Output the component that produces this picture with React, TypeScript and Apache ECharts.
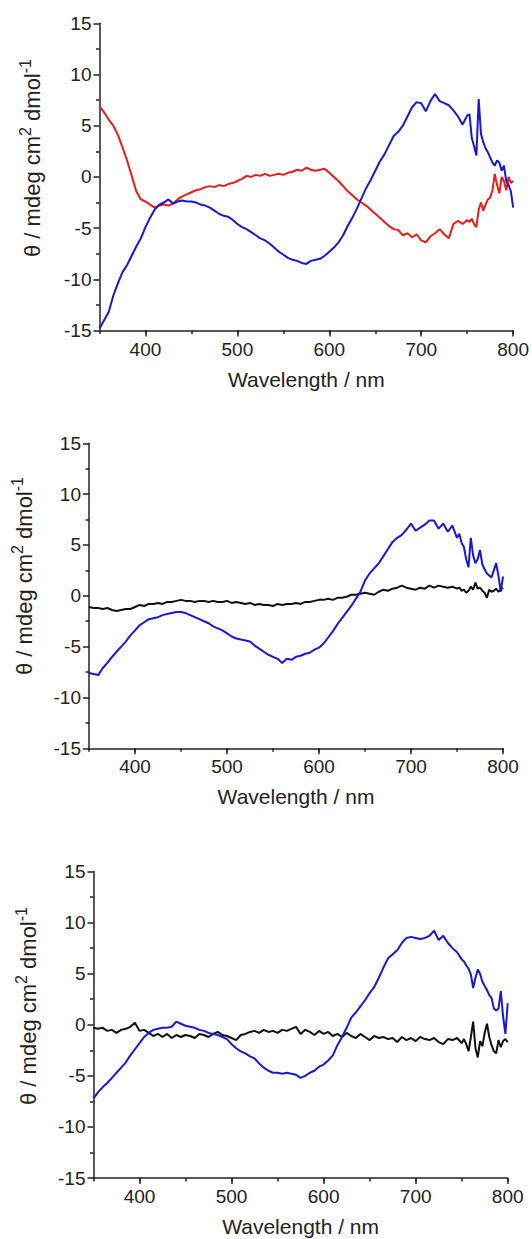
import React, { useEffect, useRef } from "react";
import * as echarts from "echarts";

// Wavelength (nm) sampling points shared by every trace
const WAVELENGTHS = [
  350, 355, 360, 365, 370, 375, 380, 385, 390, 395,
  400, 405, 410, 415, 420, 425, 430, 435, 440, 445,
  450, 455, 460, 465, 470, 475, 480, 485, 490, 495,
  500, 505, 510, 515, 520, 525, 530, 535, 540, 545,
  550, 555, 560, 565, 570, 575, 580, 585, 590, 595,
  600, 605, 610, 615, 620, 625, 630, 635, 640, 645,
  650, 655, 660, 665, 670, 675, 680, 685, 690, 695,
  700, 705, 710, 715, 720, 725, 730, 735, 740, 745,
  750,
  752.5, 755, 757.5, 760, 762.5, 765, 767.5, 770, 772.5, 775,
  777.5, 780, 782.5, 785, 787.5, 790, 792.5, 795, 797.5, 800,
];

// Panel 1
const P1_RED = [
  6.9, 6.3, 5.6, 5.0, 4.1, 2.9, 1.6, 0.1, -1.4, -2.2,
  -2.4, -2.7, -3.0, -2.8, -2.7, -2.8, -2.6, -2.2, -1.9, -1.7,
  -1.5, -1.3, -1.2, -1.0, -0.9, -1.0, -0.8, -0.9, -0.7, -0.6,
  -0.4, -0.2, 0.1, 0.0, 0.2, 0.1, 0.3, 0.1, 0.2, 0.3,
  0.2, 0.4, 0.5, 0.7, 0.6, 0.9, 0.7, 0.6, 0.7, 0.8,
  0.4, 0.0, -0.4, -0.9, -1.4, -1.8, -2.2, -2.5, -2.8, -3.2,
  -3.6, -4.0, -4.4, -4.8, -5.1, -5.2, -5.7, -5.5, -5.9, -5.6,
  -6.2, -6.4, -5.8, -5.5, -5.1, -5.6, -6.0, -4.6, -4.3, -4.6,
  -4.2,
  -4.4, -4.1, -4.6, -4.9, -3.2, -2.5, -3.3, -2.7, -2.2, -2.0,
  -1.3, 0.3, -0.8, -1.6, 0.0, -0.4, -1.3, 0.0, -0.6, -0.4,
];
const P1_BLUE = [
  -14.8, -14.0, -13.2, -11.6, -10.4, -9.3, -8.6, -7.7, -6.8, -6.0,
  -4.9, -4.0, -3.2, -2.7, -2.5, -2.2, -2.6, -2.4, -2.3, -2.4,
  -2.4, -2.5, -2.7, -2.8, -3.0, -3.3, -3.6, -3.8, -3.9, -4.2,
  -4.6, -4.9, -5.1, -5.4, -5.7, -6.0, -6.2, -6.5, -6.9, -7.3,
  -7.6, -7.9, -8.1, -8.2, -8.4, -8.5, -8.2, -8.1, -8.0, -7.7,
  -7.3, -6.9, -6.4, -5.7, -4.8, -4.0, -3.1, -2.1, -1.1, -0.3,
  0.6, 1.5, 2.2, 3.1, 4.0, 4.4, 5.0, 5.9, 6.8, 7.3,
  7.2, 6.4, 7.4, 8.1, 7.4, 7.2, 7.0, 6.5, 5.9, 5.1,
  6.0,
  6.1, 3.8, 3.0, 2.1, 7.6, 4.2, 3.4, 2.8, 2.4, 1.9,
  1.4, 1.1, 1.6, 1.4, 0.6, 1.1, -0.4, -0.8, -1.4, -3.0,
];

// Panel 2
const P2_BLUE = [
  -7.6, -7.7, -7.8, -7.1, -6.6, -6.0, -5.5, -5.0, -4.5, -3.9,
  -3.4, -2.9, -2.6, -2.3, -2.2, -2.1, -1.9, -1.8, -1.7, -1.6,
  -1.6, -1.7, -1.9, -2.1, -2.3, -2.5, -2.7, -3.0, -3.2, -3.4,
  -3.7, -4.0, -4.2, -4.3, -4.4, -4.5, -4.9, -5.2, -5.5, -5.8,
  -6.0, -6.2, -6.6, -6.2, -6.3, -6.0, -5.9, -5.7, -5.6, -5.3,
  -5.1, -4.7, -4.1, -3.5, -2.8, -2.2, -1.6, -1.0, -0.3, 0.4,
  1.5, 2.2, 2.7, 3.2, 3.9, 4.6, 5.3, 5.7, 6.0, 6.5,
  7.1, 6.4, 6.7, 7.0, 7.4, 7.4, 6.6, 7.1, 6.3, 6.9,
  5.7,
  6.1, 5.2, 4.8, 3.6, 2.8, 5.7, 4.0, 3.2, 3.6, 4.5,
  3.1, 2.6, 2.2, 2.0, 1.8, 2.5, 3.2, 2.0, 0.4, 1.9,
];
const P2_BLACK = [
  -1.1, -1.2, -1.2, -1.3, -1.2, -1.4, -1.5, -1.4, -1.3, -1.3,
  -1.1, -0.9, -1.0, -0.8, -0.8, -0.7, -0.8, -0.6, -0.6, -0.5,
  -0.4, -0.5, -0.5, -0.6, -0.5, -0.5, -0.6, -0.5, -0.6, -0.6,
  -0.5, -0.7, -0.6, -0.7, -0.8, -0.7, -0.9, -0.8, -0.9, -0.9,
  -1.0, -0.8, -0.9, -0.8, -0.8, -0.7, -0.8, -0.6, -0.6, -0.5,
  -0.4, -0.4, -0.3, -0.4, -0.2, -0.2, -0.1, 0.1, 0.1, 0.2,
  0.3, 0.2, 0.1, 0.4, 0.6, 0.5, 0.7, 0.8, 1.0, 0.8,
  0.7, 0.6, 0.8, 0.7, 1.0, 0.8, 1.0, 0.9, 0.8, 0.9,
  0.7,
  0.8, 0.5, 0.6, 0.3, 0.5, 0.9, 0.6, 1.3, 0.7, 0.8,
  0.5, 0.3, -0.2, 0.6, 0.4, 0.5, 0.7, 0.4, 0.6, 0.8,
];

// Panel 3
const P3_BLUE = [
  -7.2, -6.6, -6.1, -5.7, -5.2, -4.7, -4.2, -3.7, -3.0, -2.4,
  -1.8, -1.2, -0.8, -0.5, -0.4, -0.3, -0.3, -0.2, 0.3, 0.1,
  -0.1, -0.2, -0.3, -0.5, -0.6, -0.8, -0.9, -1.0, -1.2, -1.4,
  -1.9, -2.3, -2.6, -2.8, -3.1, -3.3, -3.8, -4.2, -4.5, -4.7,
  -4.7, -4.8, -4.7, -4.8, -4.9, -5.2, -5.0, -4.7, -4.5, -4.1,
  -3.9, -3.5, -3.0, -2.0, -1.2, -0.3, 0.7, 1.2, 1.8, 2.4,
  3.1, 3.7, 4.6, 5.6, 6.5, 6.9, 7.3, 8.0, 8.5, 8.6,
  8.5, 8.4, 8.5, 8.7, 9.2, 8.3, 8.7, 8.0, 7.5, 7.1,
  6.4,
  6.2, 5.8, 5.5, 4.9, 3.6, 4.6, 5.4, 5.0, 4.2, 3.8,
  3.4, 2.9, 2.6, 1.6, 1.4, 1.6, 3.3, 0.8, -0.9, 2.1,
];
const P3_BLACK = [
  -0.3, -0.4, -0.3, -0.6, -0.5, -0.8, -0.5, -0.4, -0.2, 0.2,
  -0.6, -0.5, -0.8, -1.1, -0.9, -1.2, -0.9, -1.3, -1.0, -1.2,
  -1.0, -1.1, -1.3, -0.9, -1.0, -1.2, -0.9, -0.7, -1.0, -1.1,
  -1.3, -1.5, -1.0, -0.9, -0.7, -0.6, -0.8, -0.5, -0.7, -0.6,
  -0.8, -0.5, -0.6, -0.4, -0.2, -0.9, -0.5, -0.7, -1.0, -0.6,
  -0.9, -0.7, -1.1, -0.9, -1.2, -0.8, -1.1, -1.3, -0.9, -1.2,
  -1.5, -1.1, -1.3, -1.2, -1.4, -1.3, -1.7, -1.2, -1.5, -1.3,
  -1.6, -1.2, -1.4, -1.5, -1.3, -1.7, -1.9, -1.4, -1.5, -1.3,
  -1.8,
  -1.4, -1.9, -2.6, -1.2, 0.3, -2.3, -3.2, -1.6, -2.1, -0.8,
  0.1, -1.2, -2.0, -2.6, -2.8, -1.5, -2.2, -1.6, -1.4, -1.7,
];

const X_TITLE = "Wavelength / nm";
const Y_TITLE = "{m|θ / mdeg cm}{s|2}{m| dmol}{s|-1}";

const FONT = "'Liberation Sans', Arial, Helvetica, sans-serif";
const TEXT = "#222";
const AXIS = "#222";
const RED = "#ec1c1c";
const BLUE = "#1818d8";
const BLACK = "#111111";

const GRIDS = [
  { left: 99.5, top: 23.3, width: 414.5, height: 307.2 },
  { left: 89, top: 443.3, width: 414, height: 305 },
  { left: 93.5, top: 871.5, width: 414.2, height: 306.5 },
];
const Y_TITLE_POS = [
  [32, 158],
  [24, 576],
  [28, 1006],
];

const TRACES = [
  { panel: 0, color: RED, values: P1_RED },
  { panel: 0, color: BLUE, values: P1_BLUE },
  { panel: 1, color: BLACK, values: P2_BLACK },
  { panel: 1, color: BLUE, values: P2_BLUE },
  { panel: 2, color: BLACK, values: P3_BLACK },
  { panel: 2, color: BLUE, values: P3_BLUE },
];

export default function App() {
  const ref = useRef<HTMLDivElement>(null);

  useEffect(() => {
    if (!ref.current) return;
    const chart = echarts.init(ref.current, undefined, { renderer: "svg" });
    const lineStyle = { color: AXIS, width: 1.5 };

    const mainX = GRIDS.map((_, i) => ({
      type: "value",
      gridIndex: i,
      min: 350,
      max: 800,
      splitNumber: 5,
      position: "bottom",
      axisLine: { show: true, onZero: false, lineStyle },
      axisTick: { show: true, length: 6, lineStyle },
      axisLabel: {
        margin: 9,
        fontSize: 19,
        fontFamily: FONT,
        color: TEXT,
        showMinLabel: false,
        formatter: (v: number) => (v % 100 === 0 ? String(v) : ""),
      },
      splitLine: { show: false },
      name: X_TITLE,
      nameLocation: "middle",
      nameGap: 38,
      nameTextStyle: { fontSize: 21, fontFamily: FONT, color: TEXT },
    }));
    const minorX = GRIDS.map((_, i) => ({
      type: "value",
      gridIndex: i,
      min: 350,
      max: 800,
      interval: 50,
      position: "bottom",
      axisLine: { show: false, onZero: false },
      axisTick: { show: true, length: 3.5, lineStyle },
      axisLabel: { show: false },
      splitLine: { show: false },
    }));

    const yAxes = GRIDS.map((_, i) => ({
      type: "value",
      gridIndex: i,
      min: -15,
      max: 15,
      interval: 5,
      axisLine: { show: true, onZero: false, lineStyle },
      axisTick: { show: true, length: 6, lineStyle },
      minorTick: { show: true, splitNumber: 2, length: 3.5, lineStyle },
      axisLabel: { margin: 8, fontSize: 19, fontFamily: FONT, color: TEXT },
      splitLine: { show: false },
      minorSplitLine: { show: false },
    }));

    const series = TRACES.map((t) => ({
      type: "line",
      xAxisIndex: t.panel,
      yAxisIndex: t.panel,
      data: WAVELENGTHS.map((w, k) => [w, t.values[k]]),
      showSymbol: false,
      symbol: "none",
      silent: true,
      lineStyle: { color: t.color, width: 2 },
      itemStyle: { color: t.color },
    }));

    const graphic = Y_TITLE_POS.map(([x, y]) => ({
      type: "text",
      x,
      y,
      rotation: Math.PI / 2,
      silent: true,
      style: {
        text: Y_TITLE,
        align: "center",
        verticalAlign: "middle",
        rich: {
          m: { fontSize: 22, fontFamily: FONT, fill: TEXT, lineHeight: 30 },
          s: { fontSize: 16, fontFamily: FONT, fill: TEXT, lineHeight: 16, verticalAlign: "top" },
        },
      },
    }));

    chart.setOption({
      animation: false,
      backgroundColor: "#ffffff",
      grid: GRIDS.map((g) => ({ ...g, containLabel: false })),
      xAxis: [...mainX, ...minorX],
      yAxis: yAxes,
      series,
      graphic,
    });

    return () => chart.dispose();
  }, []);

  return (
    <div
      ref={ref}
      style={{ position: "absolute", left: 0, top: 0, width: 532, height: 1239 }}
    />
  );
}
